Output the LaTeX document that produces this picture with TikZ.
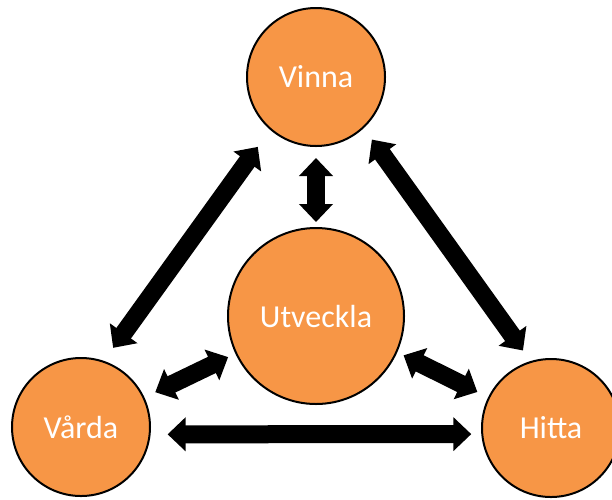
\documentclass[tikz,border=0pt]{standalone}
\usepackage{fontspec}
\setmainfont{Carlito}
\usetikzlibrary{arrows.meta}
\definecolor{phaseorange}{HTML}{F79646}
\tikzstyle{phase} = [circle, minimum size=138pt, inner sep=0pt, draw=black, line width=2pt, fill=phaseorange, text=white, font=\fontsize{32}{38}\selectfont]
\tikzstyle{core} = [phase, minimum size=176pt]
\tikzstyle{arrow} = [line width=18pt, <->, >={Triangle[width=33pt,length=18pt]}]

\begin{document}
\begin{tikzpicture}[x=1pt, y=1pt]
        \useasboundingbox (0,0) rectangle (612,-499);
        \node (vinna) [phase] at (316,-77) {Vinna};
        \node (utveckla) [core, below of=vinna, node distance=239pt] {Utveckla};
        \node (varda) [phase] at (81,-427) {Vårda};
        \node (hitta) [phase] at (551,-428) {Hitta};

        \draw [arrow, shorten <=21pt, shorten >=16pt] (vinna.229) -- (varda.71);
        \draw [arrow, shorten <=14pt, shorten >=13pt] (vinna.313) -- (hitta.107);
        \draw [arrow, shorten <=11pt, shorten >=5pt] (vinna.270) -- (utveckla.90);
        \draw [arrow, shorten <=12pt, shorten >=8pt] (varda.25) -- (utveckla.205);
        \draw [arrow, shorten <=12pt, shorten >=7pt] (hitta.154) -- (utveckla.336);
        \draw [arrow, shorten <=17pt, shorten >=10pt] (varda.354) -- (hitta.185);
    \end{tikzpicture}
\end{document}
